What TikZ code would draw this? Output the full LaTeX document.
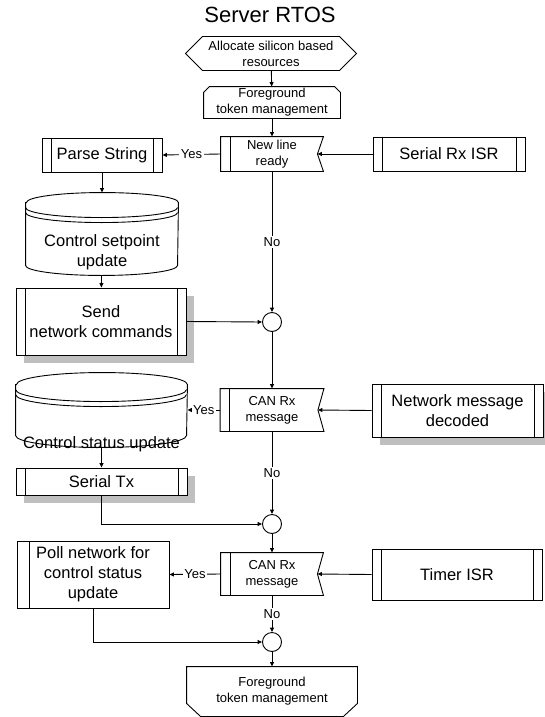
\documentclass[tikz,border=0pt]{standalone}
\usepackage{fontspec}
\setmainfont{Liberation Sans}
\usetikzlibrary{arrows.meta}
\usetikzlibrary{shadows}

\tikzset{
  bigtxt/.style={font=\fontsize{16.5}{20}\selectfont},
  smalltxt/.style={font=\fontsize{13}{16}\selectfont},
  procbox/.style={draw, fill=white, inner sep=0pt, align=center, bigtxt,
    path picture={
      \draw ([xshift=9pt]path picture bounding box.north west) -- ([xshift=9pt]path picture bounding box.south west);
      \draw ([xshift=-9pt]path picture bounding box.north east) -- ([xshift=-9pt]path picture bounding box.south east);
    }},
  leftbarbox/.style={draw, fill=white, inner sep=0pt, align=center, bigtxt,
    path picture={
      \draw ([xshift=12pt]path picture bounding box.north west) -- ([xshift=12pt]path picture bounding box.south west);
    }},
  recvbox/.style={inner sep=0pt, align=center, smalltxt,
    path picture={
      \draw ([xshift=9pt]path picture bounding box.north west) -- ([xshift=9pt]path picture bounding box.south west);
    }},
  shadowed/.style={drop shadow={shadow xshift=8pt, shadow yshift=-8pt, fill=black!25, opacity=1}},
  joint/.style={draw, fill=white, circle, minimum size=19pt, inner sep=0pt},
  edgelbl/.style={smalltxt, fill=white, inner sep=1.5pt}
}

\begin{document}
\begin{tikzpicture}[x=1pt, y=-1pt, line width=0.9pt, >={Triangle[length=4.5pt,width=4pt]}]
  \useasboundingbox (0,0) rectangle (545,717);

  % title
  \node (title) at (270,15) {\fontsize{22}{26}\selectfont Server RTOS};

  % preparation hexagon
  \node[smalltxt, align=center, inner sep=0pt, minimum width=170pt, minimum height=33pt] (alloc) at (271,53.5) {Allocate silicon based\\resources};
  \draw ([xshift=17pt]alloc.north west) -- ([xshift=-17pt]alloc.north east) -- (alloc.east)
     -- ([xshift=-17pt]alloc.south east) -- ([xshift=17pt]alloc.south west) -- (alloc.west) -- cycle;

  % loop start
  \node[smalltxt, align=center, inner sep=0pt, minimum width=136pt, minimum height=31pt] (fgtop) at (272,102.5) {Foreground\\token management};
  \draw ([yshift=-6pt]fgtop.north west) -- ([xshift=6pt]fgtop.north west) -- ([xshift=-6pt]fgtop.north east)
     -- ([yshift=-6pt]fgtop.north east) -- (fgtop.south east) -- (fgtop.south west) -- cycle;

  % serial line check
  \node[recvbox, minimum width=102pt, minimum height=34pt] (newline) at (272,154) {New line\\ready};
  \draw (newline.north west) -- (newline.north east) -- ([xshift=-6pt]newline.east) -- (newline.south east) -- (newline.south west) -- cycle;
  \node[procbox, minimum width=152pt, minimum height=34pt] (serialrx) at (449,154) {Serial Rx ISR};
  \node[procbox, minimum width=120pt, minimum height=34pt] (parse) at (102,155) {Parse String};

  % setpoint store
  \node[inner sep=0pt, minimum width=152pt, minimum height=82pt] (setstore) at (102,234) {};
  \draw[fill=white] ([yshift=-10pt]setstore.north west) -- ([yshift=10pt]setstore.south west)
     arc[start angle=180, end angle=360, x radius=76pt, y radius=10pt]
     -- ([yshift=-10pt]setstore.north east) arc[start angle=0, end angle=180, x radius=76pt, y radius=10pt] -- cycle;
  \draw ([yshift=-15pt]setstore.north west) arc[start angle=180, end angle=360, x radius=76pt, y radius=10pt];
  \draw ([yshift=-20pt]setstore.north west) arc[start angle=180, end angle=360, x radius=76pt, y radius=10pt];
  \node[bigtxt, align=center] (setstoretxt) at (102,252.5) {Control setpoint\\update};

  \node[procbox, shadowed, minimum width=170pt, minimum height=67pt] (send) at (101,321.5) {Send\\network commands};
  \node[joint] (jointa) at (272,322) {};

  % CAN message check
  \node[recvbox, minimum width=103pt, minimum height=42pt] (canrx) at (272,410) {CAN Rx\\message};
  \draw (canrx.north west) -- (canrx.north east) -- ([xshift=-6pt]canrx.east) -- (canrx.south east) -- (canrx.south west) -- cycle;
  \node[procbox, shadowed, minimum width=171pt, minimum height=53pt] (netmsg) at (457.5,410.5) {Network message\\decoded};

  % status store
  \node[inner sep=0pt, minimum width=171pt, minimum height=74pt] (statstore) at (101.5,410) {};
  \draw[fill=white] ([yshift=-12pt]statstore.north west) -- ([yshift=12pt]statstore.south west)
     arc[start angle=180, end angle=360, x radius=85.5pt, y radius=12pt]
     -- ([yshift=-12pt]statstore.north east) arc[start angle=0, end angle=180, x radius=85.5pt, y radius=12pt] -- cycle;
  \draw ([yshift=-17pt]statstore.north west) arc[start angle=180, end angle=360, x radius=85.5pt, y radius=12pt];
  \draw ([yshift=-22pt]statstore.north west) arc[start angle=180, end angle=360, x radius=85.5pt, y radius=12pt];
  \node[bigtxt] (statstoretxt) at (101.5,444) {Control status update};

  \node[procbox, shadowed, minimum width=171pt, minimum height=27pt] (serialtx) at (101.5,481.5) {Serial Tx};
  \node[joint] (jointb) at (272,524) {};

  % timer check
  \node[recvbox, minimum width=102pt, minimum height=42pt] (cantimer) at (272,574) {CAN Rx\\message};
  \draw (cantimer.north west) -- (cantimer.north east) -- ([xshift=-6pt]cantimer.east) -- (cantimer.south east) -- (cantimer.south west) -- cycle;
  \node[procbox, minimum width=170pt, minimum height=51pt] (timer) at (457,574.5) {Timer ISR};
  \node[leftbarbox, minimum width=152pt, minimum height=67pt] (poll) at (93,574.5) {Poll network for\\control status\\update};
  \node[joint] (jointc) at (272,642) {};

  % loop end
  \node[smalltxt, align=center, inner sep=0pt, minimum width=170pt, minimum height=49pt] (fgend) at (272,691.5) {Foreground\\token management};
  \draw (fgend.north west) -- (fgend.north east) -- ([yshift=13pt]fgend.south east) -- ([xshift=-14pt]fgend.south east)
     -- ([xshift=14pt]fgend.south west) -- ([yshift=13pt]fgend.south west) -- cycle;

  % connections down the main line
  \draw[->] (alloc) -- (fgtop);
  \draw[->] (fgtop) -- (newline);
  \draw[->] (newline) -- node[edgelbl] {No} (jointa);
  \draw[->] (jointa) -- (canrx);
  \draw[->] (canrx) -- node[edgelbl] {No} (jointb);
  \draw[->] (jointb) -- (cantimer);
  \draw[->] (cantimer) -- node[edgelbl] {No} (jointc);
  \draw[->] (jointc) -- (fgend);

  % connections from the interrupt sources
  \draw[->] (serialrx.west) -- ([xshift=-6pt]newline.east);
  \draw[->] (netmsg.west) -- ([xshift=-6pt]canrx.east);
  \draw[->] (timer.west) -- ([xshift=-6pt]cantimer.east);

  % yes branches
  \draw[->] (newline.west) -- node[edgelbl] {Yes} (parse.east);
  \draw[->] (parse) -- (setstore);
  \draw[->] (setstore) -- (send);
  \draw[->] (send.east) -- (jointa.west);

  \draw[->] (canrx.west) -- node[edgelbl] {Yes} (statstore.east);
  \draw[->] (statstore) -- (serialtx);
  \draw[->] (serialtx.south) |- (jointb.west);

  \draw[->] (cantimer.west) -- node[edgelbl] {Yes} (poll.east);
  \draw[->] (poll.south) |- (jointc.west);
\end{tikzpicture}
\end{document}
